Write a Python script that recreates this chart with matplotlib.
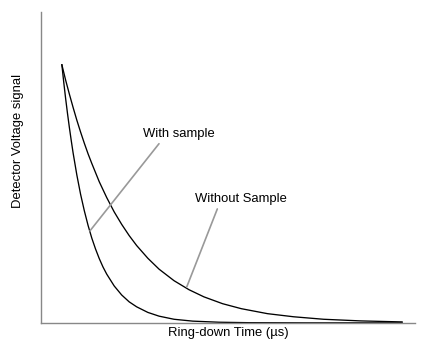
import matplotlib
matplotlib.use("Agg")
import matplotlib.pyplot as plt

plt.rcParams["font.family"] = ["Liberation Sans", "DejaVu Sans"]

# ── Data (arbitrary units) ───────────────────────────────────────────────────
time_with = [5.6, 6.1, 6.6, 7.1, 7.6, 8.1, 8.6, 9.6, 10.6, 11.6, 12.6, 13.6,
             14.6, 15.6, 16.6, 17.6, 19.6, 21.6, 23.6, 25.6, 28.6, 31.6,
             35.6, 40.6, 47.6, 55.6, 70.6, 96.6]
sig_with = [0.830, 0.774, 0.722, 0.674, 0.629, 0.587, 0.547, 0.476, 0.414,
            0.361, 0.314, 0.273, 0.238, 0.207, 0.180, 0.157, 0.119, 0.090,
            0.068, 0.052, 0.034, 0.022, 0.012, 0.006, 0.0025, 0.001, 0.0005,
            0.0005]

time_without = [5.6, 6.6, 7.6, 8.6, 9.6, 10.6, 11.6, 12.6, 13.6, 15.6, 17.6,
                19.6, 21.6, 23.6, 25.6, 28.6, 31.6, 35.6, 39.6, 43.6, 48.6,
                53.6, 60.6, 67.6, 75.6, 85.6, 96.6]
sig_without = [0.830, 0.781, 0.736, 0.693, 0.652, 0.614, 0.578, 0.544, 0.513,
               0.454, 0.403, 0.357, 0.317, 0.281, 0.249, 0.208, 0.173, 0.136,
               0.107, 0.084, 0.062, 0.046, 0.030, 0.020, 0.012, 0.0067,
               0.0035]

# label text, point on curve, text centre
labels = ["With sample", "Without Sample"]
label_xy = [(13.1, 0.296), (39.0, 0.116)]
label_text_xy = [(37.0, 0.608), (53.5, 0.399)]

# ── Figure ───────────────────────────────────────────────────────────────────
fig = plt.figure(figsize=(4.22, 3.40), dpi=100)
ax = fig.add_axes([0.097, 0.05, 0.886, 0.915])

ax.plot(time_with, sig_with, color="black", lw=0.95)
ax.plot(time_without, sig_without, color="black", lw=0.95)

for lab, xy, xyt in zip(labels, label_xy, label_text_xy):
    ax.annotate(lab, xy=xy, xytext=xyt, textcoords="data",
                ha="center", va="center", fontsize=9.4,
                arrowprops=dict(arrowstyle="-", color="#999999", lw=1.2,
                                relpos=(0.26, 0.0), shrinkA=1, shrinkB=0))

ax.set_xlim(0, 100)
ax.set_ylim(0, 1)
ax.set_xticks([])
ax.set_yticks([])
for side in ("top", "right"):
    ax.spines[side].set_visible(False)
for side in ("left", "bottom"):
    ax.spines[side].set_color("#888888")
    ax.spines[side].set_linewidth(1.0)

ax.set_xlabel("Ring-down Time (µs)", fontsize=9.4, labelpad=3)
ax.set_ylabel("Detector Voltage signal", fontsize=9.4)
ax.yaxis.set_label_coords(-0.045, 0.585)

fig.savefig("out.png", dpi=100)
